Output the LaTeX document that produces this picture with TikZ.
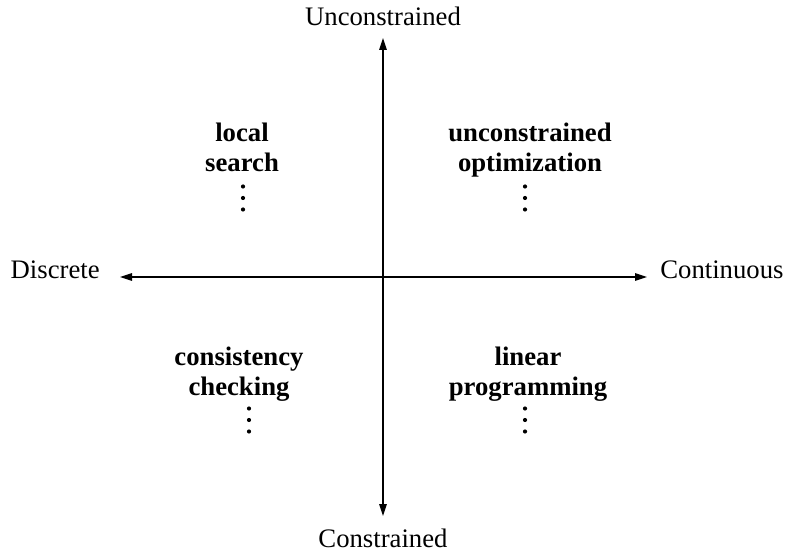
\documentclass[tikz,border=0pt]{standalone}
\usepackage{fontspec}
\setmainfont{Liberation Serif}
\usetikzlibrary{calc,positioning,arrows.meta}

\begin{document}
\begin{tikzpicture}[font=\fontsize{15.2}{17}\selectfont,
        axis/.style={{Triangle[length=0.24cm,width=0.15cm]}-{Triangle[length=0.24cm,width=0.15cm]}, line width=0.75pt},
        quad/.style={font=\fontsize{15.2}{17}\selectfont\bfseries, align=center, anchor=north, inner sep=0pt}]
            \useasboundingbox (0,0) rectangle (15.7,11.08);
            % axes
            \coordinate (w) at (2.40,5.54);
            \coordinate (e) at (12.94,5.54);
            \coordinate (n) at (7.66,10.32);
            \coordinate (s) at (7.66,0.76);
            \draw[axis] (w) -- (e);
            \draw[axis] (s) -- (n);
            \node[anchor=base, inner sep=0pt] (unc) at ([yshift=0.24cm]n) {Unconstrained};
            \node[anchor=base, inner sep=0pt] (con) at ([yshift=-0.62cm]s) {Constrained};
            \node[anchor=base east, inner sep=0pt] (dis) at ([xshift=-0.40cm, yshift=-0.04cm]w) {Discrete};
            \node[anchor=base west, inner sep=0pt] (cont) at ([xshift=0.26cm, yshift=-0.04cm]e) {Continuous};
            % quadrants
            \node[quad] (ls) at (4.84,8.62) {local\\search};
            \node[quad] (uo) at (10.60,8.62) {unconstrained\\optimization};
            \node[quad] (cc) at (4.78,4.14) {consistency\\checking};
            \node[quad] (lp) at (10.56,4.14) {linear\\programming};
            % vertical dots
            \coordinate (lsdots) at (4.86,7.12);
            \coordinate (uodots) at (10.50,7.12);
            \coordinate (ccdots) at (4.98,2.68);
            \coordinate (lpdots) at (10.50,2.68);
            \foreach \c in {lsdots,uodots,ccdots,lpdots}
                \foreach \d in {-0.23,0,0.23}
                    \fill ([yshift=\d cm]\c) circle (0.042);
        \end{tikzpicture}
\end{document}
